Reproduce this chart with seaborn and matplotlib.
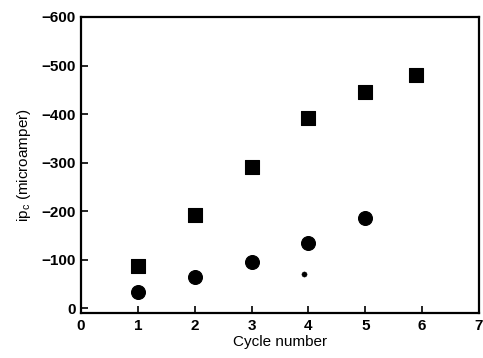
import matplotlib
matplotlib.use("Agg")
import matplotlib.pyplot as plt
import seaborn as sns
import pandas as pd

# Cathodic peak current per cycle for two electrodes
cycles_sq = [1, 2, 3, 4, 5, 5.9]
ipc_sq = [-86, -191, -291, -392, -446, -481]
cycles_ci = [1, 2, 3, 4, 5]
ipc_ci = [-34, -65, -96, -135, -186]
# stray small point
cycles_dot = [3.92]
ipc_dot = [-71]

x_ticks = [0, 1, 2, 3, 4, 5, 6, 7]
y_ticks = [0, -100, -200, -300, -400, -500, -600]

sns.set_theme(style="white")
plt.rcParams["font.family"] = ["Liberation Sans", "DejaVu Sans"]

fig = plt.figure(figsize=(4.83, 3.58), dpi=100)
ax = fig.add_axes([81 / 483, 1 - 313 / 358, 398 / 483, 296 / 358])

df_sq = pd.DataFrame({"cycle": cycles_sq, "ipc": ipc_sq})
df_ci = pd.DataFrame({"cycle": cycles_ci, "ipc": ipc_ci})
df_dot = pd.DataFrame({"cycle": cycles_dot, "ipc": ipc_dot})

sns.scatterplot(data=df_sq, x="cycle", y="ipc", marker="s", s=95,
                color="black", edgecolor="black", ax=ax)
sns.scatterplot(data=df_ci, x="cycle", y="ipc", marker="o", s=100,
                color="black", edgecolor="black", ax=ax)
sns.scatterplot(data=df_dot, x="cycle", y="ipc", marker="o", s=14,
                color="black", edgecolor="black", ax=ax)

ax.set_xlim(0, 7)
ax.set_ylim(10, -600)
ax.set_xticks(x_ticks)
ax.set_yticks(y_ticks)
ax.set_xticklabels([str(v) for v in x_ticks])
ax.set_yticklabels([("\u2212" + str(-v)) if v < 0 else str(v) for v in y_ticks])

for sp in ax.spines.values():
    sp.set_visible(True)
    sp.set_color("black")
    sp.set_linewidth(1.6)

ax.tick_params(axis="both", direction="in", length=5, width=1.2,
               colors="black", labelsize=11, pad=4,
               bottom=True, left=True, top=False, right=False)
for lab in ax.get_xticklabels() + ax.get_yticklabels():
    lab.set_fontweight("bold")

ax.set_xlabel("Cycle number", fontsize=11, color="black", labelpad=2)
ax.set_ylabel("ip$_\\mathregular{c}$ (microamper)", fontsize=11,
              color="black", labelpad=6)

fig.savefig("out.png", dpi=100, facecolor="white")
